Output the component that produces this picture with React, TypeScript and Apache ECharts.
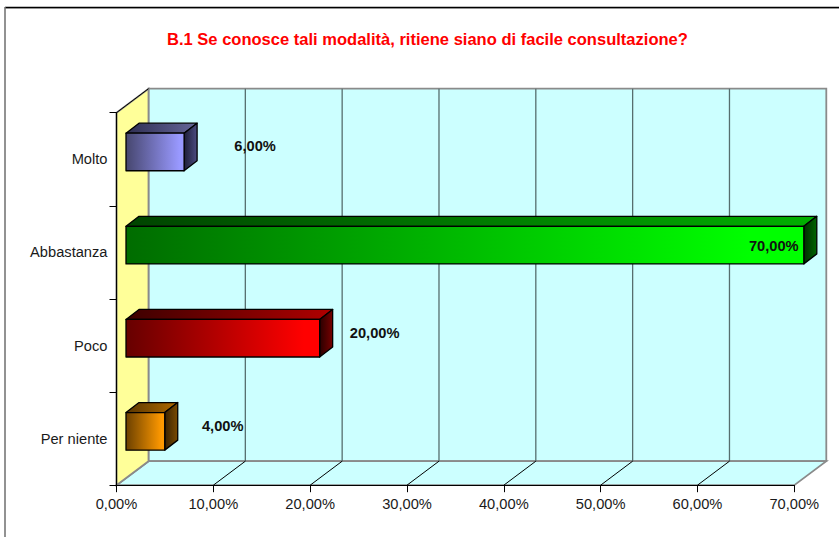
import React, { useEffect, useRef } from "react";
import * as echarts from "echarts";

const categories = ["Molto", "Abbastanza", "Poco", "Per niente"];
const percentages = [6, 70, 20, 4];
const axisTicks = [0, 10, 20, 30, 40, 50, 60, 70];
const titleText = "B.1 Se conosce tali modalità, ritiene siano di facile consultazione?";

const faceColors = [
  { dark: "#46466e", bright: "#9999ff", topDark: "#2e2e52", topBright: "#666699", sideDark: "#1e1e38", sideBright: "#4c4c80" },
  { dark: "#006c00", bright: "#00ff00", topDark: "#004400", topBright: "#00b000", sideDark: "#002c00", sideBright: "#006600" },
  { dark: "#660000", bright: "#ff0000", topDark: "#3c0000", topBright: "#b00000", sideDark: "#2a0000", sideBright: "#770000" },
  { dark: "#6b4000", bright: "#ff9900", topDark: "#5a3600", topBright: "#b06a00", sideDark: "#3a2200", sideBright: "#7a4a00" },
];
// label placement, relative to the bar's front-right corner and centre
const labelDx = [71, -30, 55, 58];
const labelDy = [-6, 1, -5.5, -5.5];

const DEPTH_X = 32;
const DEPTH_Y = 24;
const BAR_X = 9.5;
const BAR_Y = 7.3;
const BAR_H = 37.6;
const BAR_DX = 13;
const BAR_DY = 10;
const FONT = "'Liberation Sans', Arial, sans-serif";

const hGrad = (a: string, b: string, stop = 1) => ({
  type: "linear", x: 0, y: 0, x2: 1, y2: 0, global: false,
  colorStops: [{ offset: 0, color: a }, { offset: stop, color: b }, { offset: 1, color: b }],
});

const fmt = (v: number) => `${v.toFixed(2).replace(".", ",")}%`;

export default function App() {
  const ref = useRef<HTMLDivElement>(null);
  useEffect(() => {
    document.body.style.margin = "0";
    const chart = echarts.init(ref.current!, undefined, { renderer: "svg" });

    const renderWalls = (params: any, api: any) => {
      const cs = params.coordSys;
      const l = cs.x, t = cs.y, b = cs.y + cs.height, r = cs.x + cs.width;
      const bl = l + DEPTH_X, br = r + DEPTH_X, bt = t - DEPTH_Y, bb = b - DEPTH_Y;
      const children: any[] = [
        { type: "polygon", shape: { points: [[bl, bt], [br, bt], [br, bb], [bl, bb]] }, style: { fill: "#ccffff", stroke: "#8a8a8a", lineWidth: 1.8 } },
        { type: "polygon", shape: { points: [[l, b], [r, b], [br, bb], [bl, bb]] }, style: { fill: "#ccffff", stroke: "#8a8a8a", lineWidth: 1.8 } },
        { type: "polygon", shape: { points: [[l, t], [bl, bt], [bl, bb], [l, b]] }, style: { fill: "#ffff99", stroke: "#8a8a8a", lineWidth: 1.8 } },
        { type: "line", shape: { x1: l, y1: t, x2: bl, y2: bt }, style: { stroke: "#000", lineWidth: 1 } },
      ];
      axisTicks.slice(1, -1).forEach((tv) => {
        const x = api.coord([tv, 0])[0];
        children.push({ type: "line", shape: { x1: x + DEPTH_X, y1: bt, x2: x + DEPTH_X, y2: bb }, style: { stroke: "#566e6e", lineWidth: 1.3 } });
        children.push({ type: "line", shape: { x1: x, y1: b, x2: x + DEPTH_X, y2: bb }, style: { stroke: "#000", lineWidth: 1 } });
      });
      return { type: "group", children };
    };

    const renderBar = (params: any, api: any) => {
      const i = params.dataIndex;
      const c = faceColors[i];
      const end = api.coord([api.value(0), api.value(1)]);
      const x0 = api.coord([0, api.value(1)])[0] + BAR_X;
      const x1 = end[0] + BAR_X;
      const mid = end[1] - BAR_Y;
      const y0 = mid - BAR_H / 2;
      const y1 = mid + BAR_H / 2;
      const line = { stroke: "#000", lineWidth: 1.3, lineJoin: "round" };
      return {
        type: "group",
        children: [
          { type: "polygon", shape: { points: [[x0, y0], [x1, y0], [x1 + BAR_DX, y0 - BAR_DY], [x0 + BAR_DX, y0 - BAR_DY]] }, style: { fill: hGrad(c.topDark, c.topBright), ...line } },
          { type: "polygon", shape: { points: [[x1, y0], [x1 + BAR_DX, y0 - BAR_DY], [x1 + BAR_DX, y1 - BAR_DY], [x1, y1]] }, style: { fill: hGrad(c.sideDark, c.sideBright), ...line } },
          { type: "rect", shape: { x: x0, y: y0, width: x1 - x0, height: y1 - y0 }, style: { fill: hGrad(c.dark, c.bright, 0.92), ...line } },
          { type: "text", x: x1 + labelDx[i], y: mid + labelDy[i], style: { text: fmt(api.value(0)), fill: "#111", font: `bold 14.67px ${FONT}`, align: "center", verticalAlign: "middle" } },
        ],
      };
    };

    chart.setOption({
      animation: false,
      backgroundColor: "#fff",
      title: {
        text: titleText, left: 162, top: 26,
        textStyle: { color: "#ff0000", fontFamily: FONT, fontWeight: "bold", fontSize: 16.55 },
      },
      grid: { left: 116.5, top: 112.7, width: 677.8, height: 372.5, containLabel: false },
      xAxis: {
        type: "value", min: 0, max: 70, interval: 10, position: "bottom", z: 5,
        splitLine: { show: false },
        axisLine: { show: true, onZero: false, lineStyle: { color: "#000", width: 1.2 } },
        axisTick: { show: true, length: 7, lineStyle: { color: "#000" } },
        axisLabel: { show: true, margin: 11, color: "#1a1a1a", fontFamily: FONT, fontSize: 14.67, formatter: (v: number) => fmt(v), hideOverlap: false, showMinLabel: true, showMaxLabel: true, alignMinLabel: "center", alignMaxLabel: "center" },
      },
      yAxis: {
        type: "category", inverse: true, data: categories, z: 5,
        splitLine: { show: false },
        axisLine: { show: true, onZero: false, lineStyle: { color: "#000", width: 1.2 } },
        axisTick: { show: true, length: 7, lineStyle: { color: "#000" } },
        axisLabel: { show: true, margin: 9, color: "#1a1a1a", fontFamily: FONT, fontSize: 14.67 },
      },
      series: [
        { type: "custom", z: 1, silent: true, clip: false, renderItem: renderWalls, data: [[0, 0]], encode: { x: 0, y: 1 } },
        { type: "custom", z: 3, silent: true, clip: false, renderItem: renderBar, data: percentages.map((v, i) => [v, i]), encode: { x: 0, y: 1 } },
      ],
      graphic: [
        { type: "line", z: 10, shape: { x1: 5, y1: 8.5, x2: 839, y2: 8.5 }, style: { stroke: "#c4c4c4", lineWidth: 1 } },
        { type: "line", z: 10, shape: { x1: 5, y1: 7.5, x2: 839, y2: 7.5 }, style: { stroke: "#000", lineWidth: 1.4 } },
        { type: "line", z: 10, shape: { x1: 5, y1: 7, x2: 5, y2: 537 }, style: { stroke: "#777", lineWidth: 1.6 } },
      ],
    });
    return () => chart.dispose();
  }, []);
  return <div ref={ref} style={{ position: "absolute", left: 0, top: 0, width: 839, height: 537 }} />;
}
